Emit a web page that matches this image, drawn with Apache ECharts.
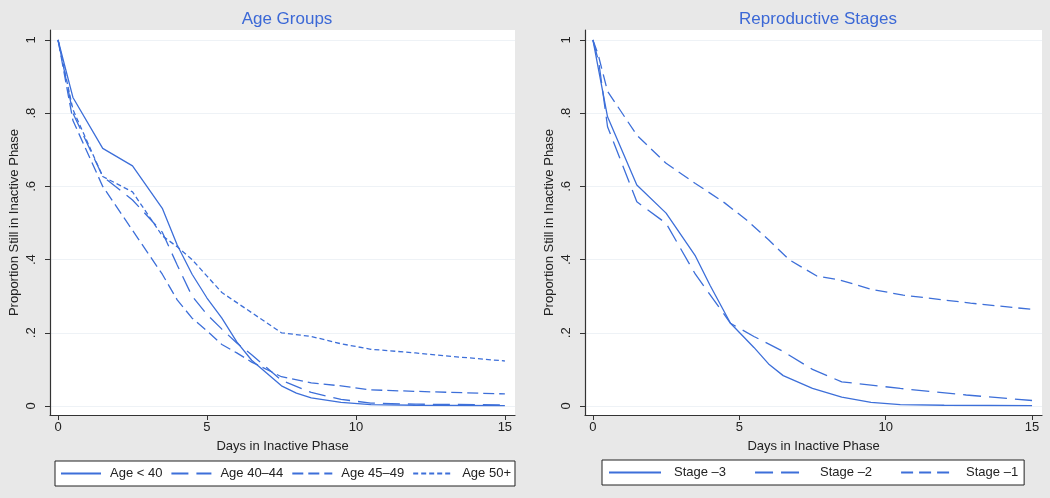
<!DOCTYPE html>
<html>
<head>
<meta charset="utf-8">
<script src="https://cdn.jsdelivr.net/npm/echarts@6/dist/echarts.min.js"></script>
<style>
html,body{margin:0;padding:0;background:#e8e8e8;}
#c{width:1050px;height:498px;}
</style>
</head>
<body>
<div id="c"></div>
<script>
// ---- data ----
const panelTitles = ['Age Groups', 'Reproductive Stages'];
const xAxisTitle = 'Days in Inactive Phase';
const yAxisTitle = 'Proportion Still in Inactive Phase';
const xTickValues = [0, 5, 10, 15];
const yTickValues = [0, 0.2, 0.4, 0.6, 0.8, 1];
const yTickLabels = ['0', '.2', '.4', '.6', '.8', '1'];

const ageNames = ['Age < 40', 'Age 40–44', 'Age 45–49', 'Age 50+'];
const ageLt40 = [[0,1],[0.5,0.843],[1.5,0.704],[2.5,0.656],[3.5,0.54],[4,0.44],[4.5,0.36],[5,0.295],[5.5,0.24],[6,0.175],[6.5,0.125],[7,0.09],[7.5,0.055],[8,0.035],[8.5,0.022],[9.5,0.01],[10.5,0.004],[12,0.002],[15,0.001]];
const age4044 = [[0,1],[0.5,0.80],[1.5,0.627],[2.5,0.563],[3.5,0.475],[4,0.385],[4.5,0.30],[5,0.25],[5.5,0.21],[6,0.172],[6.5,0.14],[7,0.105],[7.5,0.07],[8.5,0.037],[9.5,0.018],[10.5,0.008],[12,0.005],[15,0.003]];
const age4549 = [[0,1],[0.5,0.78],[1.5,0.60],[2.5,0.48],[3.5,0.36],[4,0.29],[4.5,0.24],[5,0.205],[5.5,0.168],[6,0.145],[6.5,0.12],[7.5,0.08],[8.5,0.063],[9.5,0.055],[10.5,0.044],[12,0.04],[15,0.033]];
const age50p = [[0,1],[0.5,0.81],[1.5,0.627],[2.5,0.585],[3.5,0.465],[4,0.435],[4.5,0.40],[5,0.355],[5.5,0.31],[6.5,0.255],[7.5,0.20],[8.5,0.19],[9.5,0.17],[10.5,0.155],[12,0.145],[13,0.137],[15,0.123]];

const stageNames = ['Stage –3', 'Stage –2', 'Stage –1'];
const stageM3 = [[0,1],[0.5,0.79],[1.5,0.604],[2.5,0.527],[3.5,0.41],[4,0.33],[4.7,0.226],[5.5,0.16],[6,0.115],[6.5,0.083],[7.5,0.048],[8.5,0.024],[9.5,0.01],[10.5,0.004],[12,0.002],[15,0.001]];
const stageM2 = [[0,1],[0.2,0.94],[0.5,0.763],[1.5,0.558],[2.5,0.499],[3.5,0.36],[4.7,0.226],[5.5,0.19],[6.5,0.149],[7.5,0.10],[8.5,0.066],[9.5,0.057],[10.5,0.048],[12.75,0.03],[15,0.015]];
const stageM1 = [[0,1],[0.18,0.96],[0.5,0.86],[1.5,0.74],[2.5,0.663],[3.5,0.608],[4.5,0.555],[5.25,0.508],[6,0.454],[6.7,0.40],[7.65,0.355],[8.45,0.344],[9.5,0.319],[10.6,0.303],[12.9,0.281],[15,0.264]];

// ---- styles ----
const BLUE = '#3d6fd9';
const FONT = 'Liberation Sans';
const dashStyles = {
  solid: 'solid',
  long: [17, 8],
  medium: [11, 5],
  short: [5, 3]
};

function mkSeries(name, data, idx, dash) {
  return {
    name: name, type: 'line', data: data,
    xAxisIndex: idx, yAxisIndex: idx,
    symbol: 'none', showSymbol: false, smooth: false,
    lineStyle: { color: BLUE, width: 1.3, type: dash },
    itemStyle: { color: BLUE },
    emphasis: { disabled: true },
    animation: false
  };
}

const grids = [
  { left: 50, top: 30, width: 465, height: 385 },
  { left: 585, top: 30, width: 457, height: 385 }
];

function xAx(i) {
  return {
    type: 'value', gridIndex: i, min: -0.27, max: 15.34,
    name: xAxisTitle, nameLocation: 'middle', nameGap: 25,
    nameTextStyle: { fontFamily: FONT, fontSize: 13, color: '#222' },
    axisLine: { show: true, onZero: false, lineStyle: { color: '#333', width: 1.2 } },
    axisTick: { show: true, length: 5, customValues: xTickValues, lineStyle: { color: '#333' } },
    axisLabel: { customValues: xTickValues, fontFamily: FONT, fontSize: 13, color: '#222', margin: 6 },
    splitLine: { show: false }
  };
}
function yAx(i) {
  return {
    type: 'value', gridIndex: i, min: -0.0246, max: 1.0273,
    name: yAxisTitle, nameLocation: 'middle', nameGap: 29, nameRotate: 90,
    nameTextStyle: { fontFamily: FONT, fontSize: 13, color: '#222' },
    axisLine: { show: true, onZero: false, lineStyle: { color: '#333', width: 1.2 } },
    axisTick: { show: true, length: 5, customValues: yTickValues, lineStyle: { color: '#333' } },
    axisLabel: {
      customValues: yTickValues, rotate: 90, fontFamily: FONT, fontSize: 13, color: '#222', margin: 12,
      formatter: function (v) {
        for (let k = 0; k < yTickValues.length; k++) if (Math.abs(v - yTickValues[k]) < 1e-6) return yTickLabels[k];
        return '';
      }
    },
    splitLine: { show: true, lineStyle: { color: '#eef2f6', width: 1 } }
  };
}

const legendCommon = {
  orient: 'horizontal', selectedMode: false,
  backgroundColor: '#fff', borderColor: '#222', borderWidth: 1,
  itemHeight: 10,
  itemStyle: { color: 'rgba(0,0,0,0)', borderWidth: 0, opacity: 0 }
};

const chart = echarts.init(document.getElementById('c'), null, { renderer: 'canvas' });
chart.setOption({
  backgroundColor: '#e8e8e8',
  animation: false,
  title: [
    { text: panelTitles[0], left: 282, top: 6, textAlign: 'center',
      textStyle: { fontFamily: FONT, fontSize: 17, fontWeight: 'normal', color: '#3b68d6' } },
    { text: panelTitles[1], left: 813, top: 6, textAlign: 'center',
      textStyle: { fontFamily: FONT, fontSize: 17, fontWeight: 'normal', color: '#3b68d6' } }
  ],
  grid: grids.map(g => Object.assign({ show: true, backgroundColor: '#ffffff', borderWidth: 0, containLabel: false }, g)),
  xAxis: [xAx(0), xAx(1)],
  yAxis: [yAx(0), yAx(1)],
  legend: [
    Object.assign({}, legendCommon, { data: ageNames, left: 55, top: 461, padding: [6, 4, 6, 5],
      itemWidth: 40, itemGap: 8,
      textStyle: { fontFamily: FONT, fontSize: 13, color: '#222', padding: [0, 0, 0, 4] } }),
    Object.assign({}, legendCommon, { data: stageNames, left: 602, top: 460, padding: [6, 6, 6, 6],
      itemWidth: 52, itemGap: 28,
      textStyle: { fontFamily: FONT, fontSize: 13, color: '#222', padding: [0, 0, 0, 8] } })
  ],
  series: [
    mkSeries(ageNames[0], ageLt40, 0, dashStyles.solid),
    mkSeries(ageNames[1], age4044, 0, dashStyles.long),
    mkSeries(ageNames[2], age4549, 0, dashStyles.medium),
    mkSeries(ageNames[3], age50p, 0, dashStyles.short),
    mkSeries(stageNames[0], stageM3, 1, dashStyles.solid),
    mkSeries(stageNames[1], stageM2, 1, [18, 8]),
    mkSeries(stageNames[2], stageM1, 1, [12, 6])
  ]
});
</script>
</body>
</html>
